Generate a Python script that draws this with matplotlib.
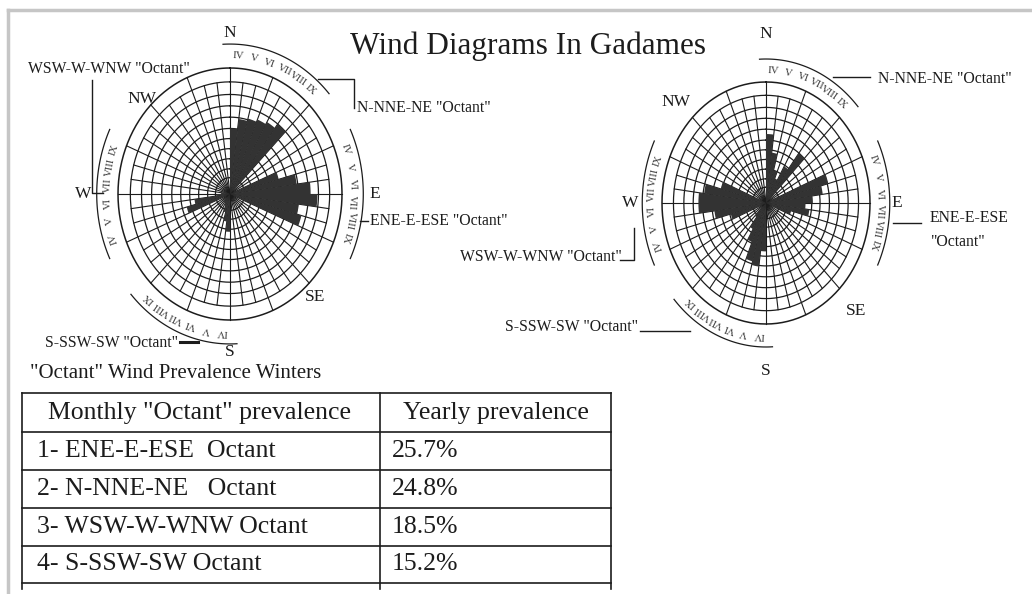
import numpy as np
import matplotlib.pyplot as plt

plt.rcParams["font.family"] = ["Liberation Serif", "DejaVu Serif"]

FIG_W, FIG_H = 1032, 594
INK = "#1c1c1c"
BAR = "#333333"
RMAX = 1.45

months = ["IV", "V", "VI", "VII", "VIII", "IX"]
octant_start = [0.0, 67.5, 180.0, 247.5]  # degrees, clockwise from N

# monthly bar length per octant (outer circle of the rose = 1)
winter_n = [0.52, 0.60, 0.62, 0.64, 0.66, 0.70]
winter_e = [0.45, 0.60, 0.72, 0.78, 0.62, 0.66]
winter_s = [0.30, 0.22, 0.15, 0.10, 0.08, 0.08]
winter_w = [0.40, 0.32, 0.12, 0.08, 0.06, 0.06]

year_n = [0.57, 0.42, 0.28, 0.22, 0.35, 0.52]
year_e = [0.62, 0.55, 0.45, 0.38, 0.42, 0.25]
year_s = [0.40, 0.53, 0.50, 0.35, 0.25, 0.15]
year_w = [0.35, 0.50, 0.65, 0.65, 0.60, 0.45]

ring_r = [0.13, 0.20, 0.28, 0.36, 0.44, 0.52, 0.61, 0.70, 0.79, 0.89]

table_head = ['Monthly "Octant" prevalence', "Yearly prevalence"]
table_octants = ["1- ENE-E-ESE  Octant", "2- N-NNE-NE   Octant",
                 "3- WSW-W-WNW Octant", "4- S-SSW-SW Octant"]
table_yearly = ["25.7%", "24.8%", "18.5%", "15.2%"]


def rose_axes(fig, cx, cy, rx, ry):
    # place a polar axes so that r=1 sits at rx/ry pixels around (cx, cy)
    w, h = rx * RMAX, ry * RMAX
    ax = fig.add_axes([(cx - w) / FIG_W, (FIG_H - cy - h) / FIG_H,
                       2 * w / FIG_W, 2 * h / FIG_H], projection="polar")
    ax.set_theta_zero_location("N")
    ax.set_theta_direction(-1)
    ax.set_ylim(0, RMAX)
    ax.set_aspect("auto")
    ax.axis("off")
    return ax


def draw_rose(ax, values, dir_labels):
    t = np.linspace(0, 2 * np.pi, 361)
    for r in ring_r:
        ax.plot(t, np.full_like(t, r), color=INK, lw=0.9, zorder=1)
    ax.plot(t, np.ones_like(t), color=INK, lw=1.1, zorder=1)
    for a in np.arange(0, 360, 7.5):
        r_end = 1.0 if a % 22.5 == 0 else 0.89
        ax.plot([np.deg2rad(a)] * 2, [0, r_end], color=INK, lw=0.8, zorder=1)

    for start, vals in zip(octant_start, values):
        th = np.deg2rad(start + 7.5 * np.arange(len(vals)))
        ax.bar(th, vals, width=np.deg2rad(7.5), align="edge", color=BAR,
               edgecolor="none", zorder=3)
        # month ring outside the rose
        arc = np.deg2rad(np.linspace(start - 3, start + 48, 60))
        ax.plot(arc, np.full_like(arc, 1.19), color=INK, lw=0.9, zorder=1)
        for k, m in enumerate(months):
            ang = start + 3.75 + 7.5 * k
            ax.text(np.deg2rad(ang), 1.095, m, rotation=-ang, fontsize=7.8,
                    color="#3a3a3a", ha="center", va="center",
                    rotation_mode="anchor", clip_on=False)

    for name, ang, r in dir_labels:
        ax.text(np.deg2rad(ang), r, name, fontsize=12.5, color=INK,
                ha="center", va="center", clip_on=False)


fig = plt.figure(figsize=(FIG_W / 100, FIG_H / 100), dpi=100)
ax0 = fig.add_axes([0, 0, 1, 1])
ax0.set_xlim(0, FIG_W)
ax0.set_ylim(FIG_H, 0)
ax0.axis("off")

# scan frame
ax0.plot([8, FIG_W], [10, 10], color="#c6c6c6", lw=2.5)
ax0.plot([8, 8], [10, FIG_H], color="#c6c6c6", lw=2.5)

ax0.text(528, 46, "Wind Diagrams In Gadames", fontsize=22.5, color=INK,
         ha="center", va="center")

left = rose_axes(fig, 230, 194, 112, 126)
draw_rose(left, [winter_n, winter_e, winter_s, winter_w],
          [("N", 0, 1.28), ("NW", 314, 1.09), ("W", 270, 1.31),
           ("E", 90, 1.29), ("SE", 137, 1.12), ("S", 180, 1.25)])

right = rose_axes(fig, 766, 203, 104, 121)
draw_rose(right, [year_n, year_e, year_s, year_w],
          [("N", 0, 1.40), ("NW", 314, 1.20), ("W", 270, 1.31),
           ("E", 90, 1.26), ("SE", 136, 1.24), ("S", 180, 1.39)])

lab = dict(fontsize=11.3, color=INK, va="center")
# left rose octant call-outs
ax0.text(28, 69, 'WSW-W-WNW "Octant"', ha="left", **lab)
ax0.plot([92, 92, 103], [80, 193, 193], color=INK, lw=1)
ax0.text(357, 108, 'N-NNE-NE "Octant"', ha="left", **lab)
ax0.plot([318, 354, 354], [79, 79, 108], color=INK, lw=1)
ax0.text(370, 221, 'ENE-E-ESE "Octant"', ha="left", **lab)
ax0.plot([360, 368], [221, 221], color=INK, lw=1)
ax0.text(45, 343, 'S-SSW-SW "Octant"', ha="left", **lab)
ax0.plot([180, 198], [342, 342], color=INK, lw=2.2)
ax0.text(30, 374, '"Octant" Wind Prevalence Winters', fontsize=15,
         color=INK, ha="left", va="center")

# right rose octant call-outs
ax0.text(878, 79, 'N-NNE-NE "Octant"', ha="left", **lab)
ax0.plot([833, 870], [77, 77], color=INK, lw=1)
ax0.text(930, 218, "ENE-E-ESE", ha="left", **lab)
ax0.text(930, 242, '"Octant"', ha="left", **lab)
ax0.plot([893, 921], [223, 223], color=INK, lw=1)
ax0.text(460, 257, 'WSW-W-WNW "Octant"', ha="left", **lab)
ax0.plot([620, 634, 634], [260, 260, 228], color=INK, lw=1)
ax0.text(505, 327, 'S-SSW-SW "Octant"', ha="left", **lab)
ax0.plot([640, 690], [331, 331], color=INK, lw=1)

# prevalence table
row_y = [393, 432, 470, 508, 546, 583]
col_x = [22, 380, 611]
for y in row_y:
    ax0.plot([col_x[0], col_x[-1]], [y, y], color=INK, lw=1.2)
for x in col_x:
    ax0.plot([x, x], [row_y[0], 589], color=INK, lw=1.2)
tab = dict(fontsize=18.5, color=INK, va="center")
ax0.text(200, (row_y[0] + row_y[1]) / 2, table_head[0], ha="center", **tab)
ax0.text(496, (row_y[0] + row_y[1]) / 2, table_head[1], ha="center", **tab)
for i, (name, val) in enumerate(zip(table_octants, table_yearly)):
    yc = (row_y[i + 1] + row_y[i + 2]) / 2
    ax0.text(37, yc, name, ha="left", **tab)
    ax0.text(392, yc, val, ha="left", **tab)

fig.savefig("out.png", dpi=100)
